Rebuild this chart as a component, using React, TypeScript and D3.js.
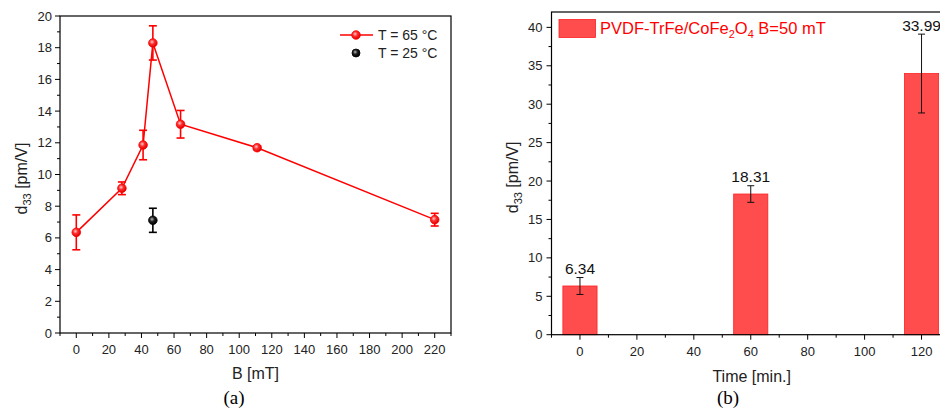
import React from "react";
import * as d3 from "d3";

const bField = [0, 28, 41, 47, 64, 111, 220];
const d33Hot = [6.35, 9.13, 11.86, 18.3, 13.17, 11.69, 7.15];
const errHot = [1.1, 0.4, 0.93, 1.08, 0.87, 0.12, 0.4];
const bCold = [47];
const d33Cold = [7.11];
const errCold = [0.76];

const times = [0, 60, 120];
const d33Time = [6.34, 18.31, 33.99];
const errTime = [1.1, 1.08, 5.13];
const timeLabels = ["6.34", "18.31", "33.99"];

const leftXTicks = d3.range(0, 221, 20);
const leftYTicks = d3.range(0, 21, 2);
const rightXTicks = d3.range(0, 121, 20);
const rightYTicks = d3.range(0, 41, 5);

const SANS = "Arial, 'Liberation Sans', sans-serif";
const SERIF = "'Times New Roman', 'Liberation Serif', serif";

export default function App() {
  // left panel
  const L = { l: 60, r: 451, t: 16, b: 333 };
  const xL = d3.scaleLinear().domain([-10, 230]).range([L.l, L.r]);
  const yL = d3.scaleLinear().domain([0, 20]).range([L.b, L.t]);
  const line = d3
    .line<number>()
    .x((_, i) => xL(bField[i]))
    .y((d) => yL(d));

  // right panel
  const R = { l: 551.5, r: 950, t: 12, b: 334.7 };
  const xR = d3.scaleLinear().domain([-10, 130]).range([R.l, R.r]);
  const yR = d3.scaleLinear().domain([0, 42]).range([R.b, R.t]);
  const barW = xR(6) - xR(-6);

  const axisText = { fontFamily: SANS, fontSize: 13, fill: "#222" } as const;

  return (
    <svg
      width={940}
      height={408}
      style={{ position: "absolute", left: 0, top: 0, background: "#fff" }}
    >
      <defs>
        <radialGradient id="gRed" cx="40%" cy="38%" r="60%">
          <stop offset="0%" stopColor="#ffd0d0" />
          <stop offset="45%" stopColor="#ff3030" />
          <stop offset="100%" stopColor="#e00000" />
        </radialGradient>
        <radialGradient id="gBlack" cx="40%" cy="38%" r="60%">
          <stop offset="0%" stopColor="#bbbbbb" />
          <stop offset="45%" stopColor="#222" />
          <stop offset="100%" stopColor="#000" />
        </radialGradient>
        <clipPath id="clipR">
          <rect x={0} y={0} width={940} height={408} />
        </clipPath>
      </defs>

      {/* ===== LEFT PANEL ===== */}
      <g>
        {d3.range(0, 21, 1).map((v) => (
          <line
            key={"lym" + v}
            x1={L.l}
            x2={L.l - (v % 2 === 0 ? 5 : 3)}
            y1={yL(v)}
            y2={yL(v)}
            stroke="#000"
            strokeWidth={1}
          />
        ))}
        {leftYTicks.map((v) => (
          <text
            key={"lyt" + v}
            x={L.l - 8}
            y={yL(v) + 4.5}
            textAnchor="end"
            {...axisText}
          >
            {v}
          </text>
        ))}
        {d3.range(-10, 231, 10).map((v) => (
          <line
            key={"lxm" + v}
            x1={xL(v)}
            x2={xL(v)}
            y1={L.b}
            y2={L.b + (v % 20 === 0 ? 5 : 3)}
            stroke="#000"
            strokeWidth={1}
          />
        ))}
        {leftXTicks.map((v) => (
          <text
            key={"lxt" + v}
            x={xL(v)}
            y={L.b + 21}
            textAnchor="middle"
            {...axisText}
          >
            {v}
          </text>
        ))}
        <rect
          x={L.l}
          y={L.t}
          width={L.r - L.l}
          height={L.b - L.t}
          fill="none"
          stroke="#000"
          strokeWidth={1.2}
        />
        <text
          x={(L.l + L.r) / 2}
          y={379}
          textAnchor="middle"
          fontFamily={SANS}
          fontSize={16}
          fill="#222"
        >
          B [mT]
        </text>
        <text
          transform={`translate(27,${(L.t + L.b) / 2 + 4}) rotate(-90)`}
          textAnchor="middle"
          fontFamily={SANS}
          fontSize={16}
          fill="#222"
        >
          d<tspan fontSize={11} dy={4}>33</tspan>
          <tspan dy={-4}> [pm/V]</tspan>
        </text>
        <text
          x={234}
          y={404}
          textAnchor="middle"
          fontFamily={SERIF}
          fontSize={19}
          fill="#000"
        >
          (a)
        </text>

        <path d={line(d33Hot) || ""} fill="none" stroke="#ff0000" strokeWidth={1.5} />
        {bField.map((b, i) => {
          const x = xL(b);
          const y1 = yL(d33Hot[i] + errHot[i]);
          const y2 = yL(d33Hot[i] - errHot[i]);
          return (
            <g key={"eh" + i} stroke="#ff0000" strokeWidth={1.6}>
              <line x1={x} x2={x} y1={y1} y2={y2} />
              <line x1={x - 4} x2={x + 4} y1={y1} y2={y1} />
              <line x1={x - 4} x2={x + 4} y1={y2} y2={y2} />
            </g>
          );
        })}
        {bField.map((b, i) => (
          <circle
            key={"mh" + i}
            cx={xL(b)}
            cy={yL(d33Hot[i])}
            r={4.3}
            fill="url(#gRed)"
            stroke="#ff0000"
            strokeWidth={0.8}
          />
        ))}
        {bCold.map((b, i) => {
          const x = xL(b);
          const y1 = yL(d33Cold[i] + errCold[i]);
          const y2 = yL(d33Cold[i] - errCold[i]);
          return (
            <g key={"ec" + i}>
              <g stroke="#000" strokeWidth={1.6}>
                <line x1={x} x2={x} y1={y1} y2={y2} />
                <line x1={x - 4} x2={x + 4} y1={y1} y2={y1} />
                <line x1={x - 4} x2={x + 4} y1={y2} y2={y2} />
              </g>
              <circle
                cx={x}
                cy={yL(d33Cold[i])}
                r={4.3}
                fill="url(#gBlack)"
                stroke="#000"
                strokeWidth={0.8}
              />
            </g>
          );
        })}

        <line x1={340} x2={373} y1={35} y2={35} stroke="#ff0000" strokeWidth={1.5} />
        <circle cx={356} cy={35} r={4.3} fill="url(#gRed)" stroke="#ff0000" strokeWidth={0.8} />
        <text x={378} y={40} fontFamily={SANS} fontSize={14} fill="#222">
          T = 65 °C
        </text>
        <circle cx={356} cy={53} r={4} fill="url(#gBlack)" stroke="#000" strokeWidth={0.8} />
        <text x={378} y={58} fontFamily={SANS} fontSize={14} fill="#222">
          T = 25 °C
        </text>
      </g>

      {/* ===== RIGHT PANEL ===== */}
      <g clipPath="url(#clipR)">
        {d3.range(0, 41, 2.5).map((v) => (
          <line
            key={"rym" + v}
            x1={R.l}
            x2={R.l - (v % 5 === 0 ? 5 : 3)}
            y1={yR(v)}
            y2={yR(v)}
            stroke="#000"
            strokeWidth={1}
          />
        ))}
        {rightYTicks.map((v) => (
          <text
            key={"ryt" + v}
            x={R.l - 9}
            y={yR(v) + 4.5}
            textAnchor="end"
            {...axisText}
          >
            {v}
          </text>
        ))}
        {d3.range(-10, 131, 10).map((v) => (
          <line
            key={"rxm" + v}
            x1={xR(v)}
            x2={xR(v)}
            y1={R.b}
            y2={R.b + (v % 20 === 0 ? 5 : 3)}
            stroke="#000"
            strokeWidth={1}
          />
        ))}
        {rightXTicks.map((v) => (
          <text
            key={"rxt" + v}
            x={xR(v)}
            y={R.b + 21}
            textAnchor="middle"
            {...axisText}
          >
            {v}
          </text>
        ))}

        {times.map((t, i) => (
          <rect
            key={"bar" + i}
            x={xR(t) - barW / 2}
            y={yR(d33Time[i])}
            width={barW}
            height={yR(0) - yR(d33Time[i])}
            fill="#ff4d4d"
            stroke="#ff2020"
            strokeWidth={0.8}
          />
        ))}
        {times.map((t, i) => {
          const x = xR(t);
          const y1 = yR(d33Time[i] + errTime[i]);
          const y2 = yR(d33Time[i] - errTime[i]);
          return (
            <g key={"et" + i}>
              <g stroke="#111" strokeWidth={1}>
                <line x1={x} x2={x} y1={y1} y2={y2} />
                <line x1={x - 3.5} x2={x + 3.5} y1={y1} y2={y1} />
                <line x1={x - 3.5} x2={x + 3.5} y1={y2} y2={y2} />
              </g>
              <text
                x={x}
                y={y1 - 3.5}
                textAnchor="middle"
                fontFamily={SANS}
                fontSize={15.5}
                fill="#111"
              >
                {timeLabels[i]}
              </text>
            </g>
          );
        })}

        <rect
          x={R.l}
          y={R.t}
          width={R.r - R.l}
          height={R.b - R.t}
          fill="none"
          stroke="#000"
          strokeWidth={1.2}
        />

        <rect x={559} y={19.5} width={36.5} height={18} fill="#ff4d4d" stroke="#ff2020" strokeWidth={0.8} />
        <text x={600} y={34} fontFamily={SANS} fontSize={16.5} fill="#ff0000">
          PVDF-TrFe/CoFe<tspan fontSize={11} dy={4}>2</tspan>
          <tspan dy={-4}>O</tspan>
          <tspan fontSize={11} dy={4}>4</tspan>
          <tspan dy={-4}> B=50 mT</tspan>
        </text>

        <text
          x={751.7}
          y={381.7}
          textAnchor="middle"
          fontFamily={SANS}
          fontSize={16}
          fill="#222"
        >
          Time [min.]
        </text>
        <text
          transform={`translate(518,${(R.t + R.b) / 2 + 4}) rotate(-90)`}
          textAnchor="middle"
          fontFamily={SANS}
          fontSize={16}
          fill="#222"
        >
          d<tspan fontSize={11} dy={4}>33</tspan>
          <tspan dy={-4}> [pm/V]</tspan>
        </text>
        <text
          x={728}
          y={404}
          textAnchor="middle"
          fontFamily={SERIF}
          fontSize={19}
          fill="#000"
        >
          (b)
        </text>
      </g>
    </svg>
  );
}
